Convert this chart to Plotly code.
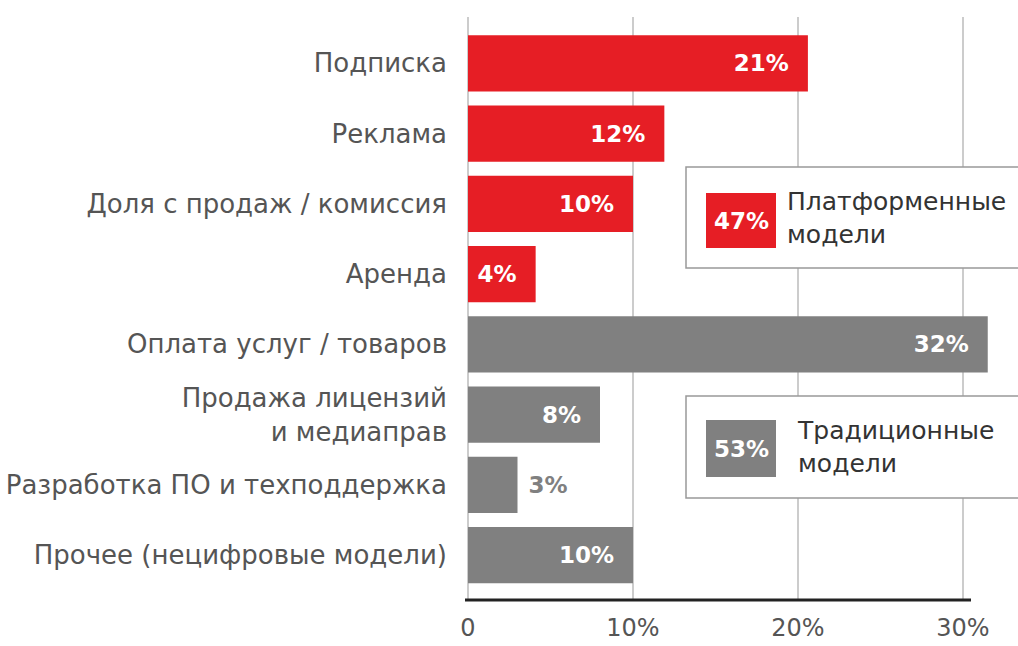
import plotly.graph_objects as go

# ---- data ----
categories = [
    "Подписка",
    "Реклама",
    "Доля с продаж / комиссия",
    "Аренда",
    "Оплата услуг / товаров",
    "Продажа лицензий<br>и медиаправ",
    "Разработка ПО и техподдержка",
    "Прочее (нецифровые модели)",
]
values = [20.6, 11.9, 10.0, 4.1, 31.5, 8.0, 3.0, 10.0]
value_labels = ["21%", "12%", "10%", "4%", "32%", "8%", "3%", "10%"]
groups = ["platform"] * 4 + ["traditional"] * 4
group_totals = {"platform": "47%", "traditional": "53%"}
group_names = {"platform": "Платформенные<br>модели", "traditional": "Традиционные<br>модели"}
x_ticks = [0, 10, 20, 30]
x_tick_labels = ["0", "10%", "20%", "30%"]

# ---- style ----
RED = "#E61E25"
GREY = "#808080"
TXT = "#555555"
FONT = "DejaVu Sans"
W, H = 1018, 646
L, R, T, B = 468, 13, 17, 46
PW, PH = W - L - R, H - T - B

def px_x(p):
    return (p - L) / PW

def px_y(p):
    return (H - B - p) / PH

colors = [RED if g == "platform" else GREY for g in groups]
positions = ["outside" if v < 3.5 else "inside" for v in values]
texts = [t + "\u00a0\u00a0" if pos == "inside" else "\u00a0" + t for t, pos in zip(value_labels, positions)]

fig = go.Figure(
    go.Bar(
        y=categories,
        x=values,
        orientation="h",
        marker=dict(color=colors, line=dict(width=0)),
        width=0.8,
        text=texts,
        textposition=positions,
        insidetextanchor="end",
        insidetextfont=dict(color="white", size=23, family=FONT, weight="bold"),
        outsidetextfont=dict(color=GREY, size=23, family=FONT, weight="bold"),
        constraintext="none",
        cliponaxis=False,
        hoverinfo="skip",
    )
)

fig.update_layout(
    width=W,
    height=H,
    margin=dict(l=L, r=R, t=T, b=B, autoexpand=False),
    paper_bgcolor="white",
    plot_bgcolor="white",
    showlegend=False,
    font=dict(family=FONT, color=TXT, size=23),
    bargap=0.2,
)

fig.update_xaxes(
    range=[0, PW / 16.5],
    tickvals=x_ticks,
    ticktext=x_tick_labels,
    showgrid=True,
    gridcolor="#cccccc",
    gridwidth=2,
    zeroline=True,
    zerolinecolor="#cccccc",
    zerolinewidth=2,
    showline=False,
    ticks="",
    tickfont=dict(size=24, color=TXT),
    ticklabelstandoff=11,
    automargin=False,
)
fig.update_yaxes(
    type="category",
    range=[len(categories) - 1 + 0.64, -0.66],
    showgrid=False,
    zeroline=False,
    showline=False,
    ticks="",
    tickfont=dict(size=26, color=TXT),
    ticklabelstandoff=20,
    automargin=False,
)

shapes = []
annotations = []
# bottom axis line
shapes.append(dict(type="line", xref="paper", yref="paper",
                   x0=px_x(465), x1=px_x(971), y0=px_y(600), y1=px_y(600),
                   line=dict(color="#222222", width=3), layer="above"))

boxes = {
    "platform": dict(top=167, bottom=268, sq_top=193, sq_bot=248, tx=785, color=RED),
    "traditional": dict(top=396, bottom=498, sq_top=420, sq_bot=477, tx=795, color=GREY),
}
for g, b in boxes.items():
    shapes.append(dict(type="rect", xref="paper", yref="paper",
                       x0=px_x(686), x1=px_x(1030), y0=px_y(b["bottom"]), y1=px_y(b["top"]),
                       fillcolor="white", line=dict(color="#999999", width=1.5), layer="above"))
    shapes.append(dict(type="rect", xref="paper", yref="paper",
                       x0=px_x(706), x1=px_x(776), y0=px_y(b["sq_bot"]), y1=px_y(b["sq_top"]),
                       fillcolor=b["color"], line=dict(width=0), layer="above"))
    annotations.append(dict(xref="paper", yref="paper", x=px_x(741),
                            y=px_y((b["sq_top"] + b["sq_bot"]) / 2),
                            text=group_totals[g], showarrow=False, xanchor="center", yanchor="middle",
                            font=dict(color="white", size=23, family=FONT, weight="bold")))
    annotations.append(dict(xref="paper", yref="paper", x=px_x(b["tx"]),
                            y=px_y((b["top"] + b["bottom"]) / 2),
                            text=group_names[g], showarrow=False, xanchor="left", yanchor="middle",
                            align="left",
                            font=dict(color="#333333", size=25, family=FONT)))

fig.update_layout(shapes=shapes, annotations=annotations)

fig.write_html(
    "out.html",
    config={"displayModeBar": False, "staticPlot": True},
    post_script="document.body.style.margin='0';document.body.style.overflow='hidden';",
)
